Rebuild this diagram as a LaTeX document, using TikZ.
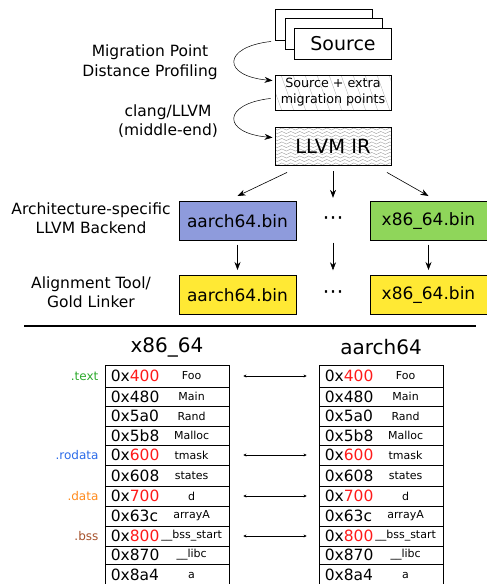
\documentclass[tikz,border=0pt]{standalone}
\usepackage{fontspec}
\setmainfont{DejaVu Sans}
\usetikzlibrary{arrows.meta,decorations.pathmorphing,calc}

\definecolor{armblue}{HTML}{8E9BDC}
\definecolor{x86green}{HTML}{8FD65A}
\definecolor{linkyellow}{HTML}{FFE934}
\definecolor{addrred}{HTML}{FF1A1A}
\definecolor{textgreen}{HTML}{2DAA2D}
\definecolor{rodatablue}{HTML}{2A6AE8}
\definecolor{dataorange}{HTML}{FF8A1C}
\definecolor{bssbrown}{HTML}{A5502A}

\newcommand\fsz[2]{\fontsize{#1}{#2}\selectfont}

\begin{document}
\begin{tikzpicture}[x=1pt,y=1pt,
  stagelabel/.style={align=center,inner sep=0pt,font=\fsz{15.5}{19.5}},
  docbox/.style={draw,fill=white,line width=0.9pt,minimum width=97pt,minimum height=31pt,inner sep=0pt},
  flowbox/.style={draw,line width=0.9pt,minimum width=116pt,inner sep=0pt},
  binbox/.style={draw,line width=1pt,minimum width=117pt,minimum height=39pt,inner sep=0pt,font=\fsz{17}{20}},
  gapdots/.style={minimum height=39pt,inner sep=0pt,font=\fsz{21}{24}},
  flowarrow/.style={-{Stealth[length=8pt,width=6pt]},line width=0.6pt},
  bendarrow/.style={-{Stealth[length=8pt,width=6pt]},line width=0.5pt},
  cell/.style={draw,line width=0.8pt,minimum width=124pt,inner sep=0pt},
  addrtext/.style={anchor=west,inner sep=0pt,font=\fsz{15.5}{18}},
  symtext/.style={inner sep=0pt,font=\fsz{11}{13}},
  seclabel/.style={anchor=east,inner sep=0pt,font=\fsz{12}{14}},
  archtitle/.style={inner sep=0pt,font=\fsz{20}{24}},
  linkarrow/.style={{Stealth[length=3pt,width=3pt]}-{Stealth[length=3pt,width=3pt]},line width=0.5pt},
]
\useasboundingbox (0,0) rectangle (487,-584);
\clip (0,0) rectangle (487,-584);

% ---- compilation pipeline ----
\node[docbox] (srcback) at (324,-24.5) {};
\node[docbox] (srcmid)  at (334,-33.5) {};
\node[docbox,font=\fsz{19}{22}] (src) at (343,-43.5) {Source};

\node[flowbox,minimum height=35pt,align=center,font=\fsz{12.7}{16},
  path picture={\foreach \k in {-30,-18,...,130}
    \draw[gray!60,line width=0.35pt] ([xshift=\k pt]path picture bounding box.north west) -- ++(13,-36);}]
  (srcx) at (333,-92.5) {Source + extra\\migration points};

\node[flowbox,minimum height=38pt,font=\fsz{19.5}{22},
  path picture={\foreach \k in {2,5.5,...,38}
    \draw[gray!75,line width=0.4pt,decorate,decoration={snake,segment length=9pt,amplitude=1.1pt}]
      ([yshift=-\k pt,xshift=-5pt]path picture bounding box.north west) -- ([yshift=-\k pt,xshift=5pt]path picture bounding box.north east);}]
  (ir) at (333,-146) {LLVM IR};

\node[binbox,fill=armblue]    (a1) at (237.5,-221) {aarch64.bin};
\node[gapdots]                (d1) at (333,-221) {⋯};
\node[binbox,fill=x86green]   (x1) at (428.5,-221) {x86\_64.bin};
\node[binbox,fill=linkyellow] (a2) at (237.5,-295) {aarch64.bin};
\node[gapdots]                (d2) at (333,-295) {⋯};
\node[binbox,fill=linkyellow] (x2) at (428.5,-295) {x86\_64.bin};

\node[stagelabel] (lprof)  at (150,-62)  {Migration Point\\Distance Profiling};
\node[stagelabel] (lclang) at (168,-121) {clang/LLVM\\(middle-end)};
\node[stagelabel] (lback)  at (91,-218)  {Architecture-specific\\LLVM Backend};
\node[stagelabel] (llink)  at (91,-292)  {Alignment Tool/\\Gold Linker};

\draw[bendarrow] ([shift={(-4,-1)}]srcback.south west)
  .. controls (222,-47) and (222,-76) .. ([shift={(-2,-6)}]srcx.north west);
\draw[bendarrow] ([shift={(-4,12)}]srcx.south west)
  .. controls (222,-104) and (222,-133) .. ([shift={(-2,-11)}]ir.north west);

\draw[flowarrow] ([shift={(-46,-7)}]ir.south) -- ([yshift=5pt]a1.north);
\draw[flowarrow] ([yshift=-6pt]ir.south) -- ([yshift=3.5pt]d1.north);
\draw[flowarrow] ([shift={(54,-7)}]ir.south) -- ([yshift=5pt]x1.north);

\draw[flowarrow] ([yshift=-3.5pt]a1.south) -- ([yshift=5pt]a2.north);
\draw[flowarrow] ([yshift=-2pt]d1.south) -- ([yshift=5pt]d2.north);
\draw[flowarrow] ([yshift=-3.5pt]x1.south) -- ([yshift=5pt]x2.north);

% ---- separator ----
\coordinate (ruleL) at (24,-326);
\coordinate (ruleR) at (476,-326);
\draw[line width=2pt] (ruleL) -- (ruleR);

% ---- section layouts ----
\node[archtitle] (tx) at (167,-347) {x86\_64};
\node[archtitle] (ta) at (381,-347) {aarch64};

\foreach \i/\t/\b/\addr/\sym in {
  0/365/387/{0x\textcolor{addrred}{400}}/Foo,
  1/387/406/{0x480}/Main,
  2/406/426/{0x5a0}/Rand,
  3/426/445/{0x5b8}/Malloc,
  4/445/465/{0x\textcolor{addrred}{600}}/tmask,
  5/465/486/{0x608}/states,
  6/486/506/{0x\textcolor{addrred}{700}}/d,
  7/506/526/{0x63c}/arrayA,
  8/526/546/{0x\textcolor{addrred}{800}}/{\_\_bss\_start},
  9/546/564/{0x870}/{\_\_libc},
  10/564/586/{0x8a4}/a}{
  \pgfmathsetmacro\mid{-(\t+\b)/2}
  \pgfmathsetmacro\h{\b-\t}
  \node[cell,minimum height=\h pt] (x\i) at (167,\mid) {};
  \node[addrtext] at ([xshift=6pt]x\i.west) {\addr};
  \node[symtext] at ([xshift=87pt]x\i.west) {\sym};
  \node[cell,minimum height=\h pt] (a\i) at (381,\mid) {};
  \node[addrtext] at ([xshift=6pt]a\i.west) {\addr};
  \node[symtext] at ([xshift=87pt]a\i.west) {\sym};
}

\node[seclabel,text=textgreen]  (stext)   at ([xshift=-6pt]x0.west) {.text};
\node[seclabel,text=rodatablue] (srodata) at ([xshift=-6pt]x4.west) {.rodata};
\node[seclabel,text=dataorange] (sdata)   at ([xshift=-6pt]x6.west) {.data};
\node[seclabel,text=bssbrown]   (sbss)    at ([xshift=-6pt]x8.west) {.bss};

\foreach \i in {0,4,6,8}
  \draw[linkarrow] ([xshift=14pt]x\i.east) -- ([xshift=-12pt]a\i.west);
\end{tikzpicture}
\end{document}
